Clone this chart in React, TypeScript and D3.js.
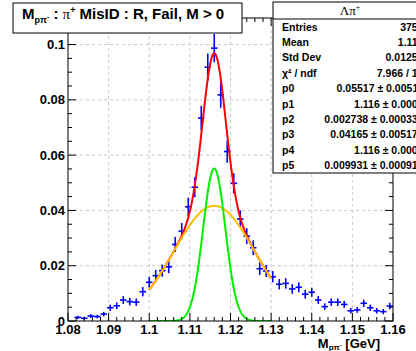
import React from "react";
import * as d3 from "d3";

// ---- data ----
const binLow = 1.08;
const binWidth = 0.0016;
const binValues = [
  0, 0.0013, 0.001, 0.0018, 0.0016, 0.0025, 0.0048, 0.0055, 0.0076, 0.007,
  0.0068, 0.0106, 0.014, 0.0164, 0.0182, 0.0196, 0.0277, 0.0325, 0.0413, 0.0484,
  0.0734, 0.0918, 0.0987, 0.0818, 0.0613, 0.0498, 0.0369, 0.0307, 0.0265, 0.0189,
  0.0181, 0.016, 0.0133, 0.0136, 0.0116, 0.0122, 0.0097, 0.0104, 0.0076, 0.0052,
  0.0068, 0.0068, 0.006, 0.0037, 0.004, 0.0064, 0.0048, 0.0037, 0.0034, 0.0054,
];
const binErrors = [
  0, 0.00059, 0.00052, 0.00069, 0.00065, 0.00082, 0.00113, 0.00121, 0.00142, 0.00137,
  0.00135, 0.00168, 0.00193, 0.00209, 0.0022, 0.00228, 0.00272, 0.00294, 0.00332, 0.00359,
  0.00442, 0.00494, 0.00513, 0.00467, 0.00404, 0.00364, 0.00313, 0.00286, 0.00266, 0.00224,
  0.0022, 0.00206, 0.00188, 0.0019, 0.00176, 0.0018, 0.00161, 0.00166, 0.00142, 0.00118,
  0.00135, 0.00135, 0.00126, 0.00099, 0.00103, 0.00131, 0.00113, 0.00099, 0.00095, 0.0012,
];
const xTicks = [1.08, 1.09, 1.1, 1.11, 1.12, 1.13, 1.14, 1.15, 1.16];
const xTickLabels = ["1.08", "1.09", "1.1", "1.11", "1.12", "1.13", "1.14", "1.15", "1.16"];
const yTicks = [0, 0.02, 0.04, 0.06, 0.08, 0.1];
const yTickLabels = ["0", "0.02", "0.04", "0.06", "0.08", "0.1"];
const fitParams = [0.05517, 1.116, 0.002738, 0.04165, 1.116, 0.009931];
const fitRange = [1.1, 1.13];
const statLabels = ["Entries", "Mean", "Std Dev", "χ² / ndf", "p0", "p1", "p2", "p3", "p4", "p5"];
const statValues = [
  "3756", "1.118", "0.01253", "7.966 / 13",
  "0.05517 ± 0.00511", "1.116 ± 0.0001", "0.002738 ± 0.000333",
  "0.04165 ± 0.005173", "1.116 ± 0.0002", "0.009931 ± 0.000915",
];

const W = 416, H = 351;
const L = 68, R = 393, T = 18, B = 321;
const FONT = "'Liberation Sans', Arial, Helvetica, sans-serif";
const SERIF = "'Liberation Serif', 'Times New Roman', serif";

const gaus = (x: number, a: number, m: number, s: number) =>
  a * Math.exp(-0.5 * ((x - m) / s) * ((x - m) / s));

export default function App() {
  const x = d3.scaleLinear().domain([1.08, 1.16]).range([L, R]);
  const y = d3.scaleLinear().domain([0, 0.1096]).range([B, T]);
  const [p0, p1, p2, p3, p4, p5] = fitParams;
  const xs = d3.range(0, 401).map((i) => fitRange[0] + ((fitRange[1] - fitRange[0]) * i) / 400);
  const line = d3.line<[number, number]>().x((d) => x(d[0])).y((d) => y(d[1]));
  const total = line(xs.map((v) => [v, gaus(v, p0, p1, p2) + gaus(v, p3, p4, p5)]));
  const g1 = line(xs.map((v) => [v, gaus(v, p0, p1, p2)]));
  const g2 = line(xs.map((v) => [v, gaus(v, p3, p4, p5)]));

  const xMinor = d3.range(0, 41).map((i) => 1.08 + i * 0.002);
  const yMinor = d3.range(0, 22).map((i) => i * 0.005).filter((v) => v <= 0.1096);

  return (
    <svg width={W} height={H} style={{ position: "absolute", left: 0, top: 0, background: "#fff" }}>
      <defs>
        <clipPath id="frame">
          <rect x={L} y={T} width={R - L} height={B - T} />
        </clipPath>
      </defs>
      <rect x={0} y={0} width={W} height={H} fill="#fff" />
      {/* grid */}
      {xTicks.slice(1, -1).map((t) => (
        <line key={"gx" + t} x1={x(t)} x2={x(t)} y1={T} y2={B} stroke="#c8c8c8" strokeDasharray="3,3" />
      ))}
      {yTicks.slice(1).map((t) => (
        <line key={"gy" + t} x1={L} x2={R} y1={y(t)} y2={y(t)} stroke="#c8c8c8" strokeDasharray="3,3" />
      ))}
      {/* data */}
      <g clipPath="url(#frame)" stroke="#0000ff" strokeWidth={1.6}>
        {binValues.map((v, i) => {
          if (v <= 0) return null;
          const c = binLow + binWidth * (i + 0.5);
          return (
            <g key={"b" + i}>
              <line x1={x(c - binWidth / 2)} x2={x(c + binWidth / 2)} y1={y(v)} y2={y(v)} />
              <line x1={x(c)} x2={x(c)} y1={y(v - binErrors[i])} y2={y(v + binErrors[i])} />
            </g>
          );
        })}
      </g>
      {/* fits */}
      <g clipPath="url(#frame)" fill="none" strokeWidth={2}>
        <path d={total || ""} stroke="#ff0000" />
        <path d={g2 || ""} stroke="#ffbf00" />
        <path d={g1 || ""} stroke="#00f000" />
      </g>
      {/* frame + ticks */}
      <rect x={L} y={T} width={R - L} height={B - T} fill="none" stroke="#000" strokeWidth={1} />
      {xMinor.map((t, i) => {
        const len = i % 5 === 0 ? 8 : 4;
        return (
          <g key={"xt" + i} stroke="#000">
            <line x1={x(t)} x2={x(t)} y1={B} y2={B - len} />
            <line x1={x(t)} x2={x(t)} y1={T} y2={T + len} />
          </g>
        );
      })}
      {yMinor.map((t, i) => {
        const len = i % 4 === 0 ? 8 : 4;
        return (
          <g key={"yt" + i} stroke="#000">
            <line x1={L} x2={L + len} y1={y(t)} y2={y(t)} />
            <line x1={R} x2={R - len} y1={y(t)} y2={y(t)} />
          </g>
        );
      })}
      {/* tick labels */}
      <g fontFamily={FONT} fontWeight="bold" fontSize={13} fill="#000">
        {xTicks.map((t, i) => (
          <text key={"xl" + t} x={x(t)} y={B + 13} textAnchor="middle">{xTickLabels[i]}</text>
        ))}
        {yTicks.map((t, i) => (
          <text key={"yl" + t} x={L - 3} y={y(t) + 4.5} textAnchor="end">{yTickLabels[i]}</text>
        ))}
        <text x={380} y={347.5} textAnchor="end">
          M<tspan fontSize={8} dy={2}>pπ</tspan><tspan fontSize={6} dy={-3}>-</tspan>
          <tspan dy={1} fontSize={13}> [GeV]</tspan>
        </text>
      </g>
      {/* title box */}
      <rect x={13} y={3} width={229} height={30} fill="#fff" stroke="#000" />
      <text x={22} y={19} fontFamily={FONT} fontWeight="bold" fontSize={15}>
        M<tspan fontSize={9} dy={4}>pπ</tspan><tspan fontSize={7} dy={-4}>-</tspan>
        <tspan dy={0} fontSize={15}> : </tspan>
        <tspan fontFamily={SERIF} fontWeight="normal">π</tspan>
        <tspan fontSize={9} dy={-6}>+</tspan>
        <tspan fontSize={15} dy={6}> MisID : R, Fail, M &gt; 0</tspan>
      </text>
      {/* stat box */}
      <rect x={273} y={2} width={155} height={171} fill="#fff" stroke="#000" />
      <line x1={273} x2={428} y1={19} y2={19} stroke="#000" />
      <text x={350} y={15} textAnchor="middle" fontFamily={SERIF} fontSize={13}>
        Λπ<tspan fontSize={8} dy={-5}>+</tspan>
      </text>
      <g fontFamily={FONT} fontSize={10.5} fontWeight="bold" fill="#000">
        {statLabels.map((s, i) => (
          <text key={"sl" + i} x={282} y={30.5 + 15.4 * i}>{s}</text>
        ))}
        {statValues.map((s, i) => (
          <text key={"sv" + i} x={423.5} y={30.5 + 15.4 * i} textAnchor="end">{s}</text>
        ))}
      </g>
    </svg>
  );
}
